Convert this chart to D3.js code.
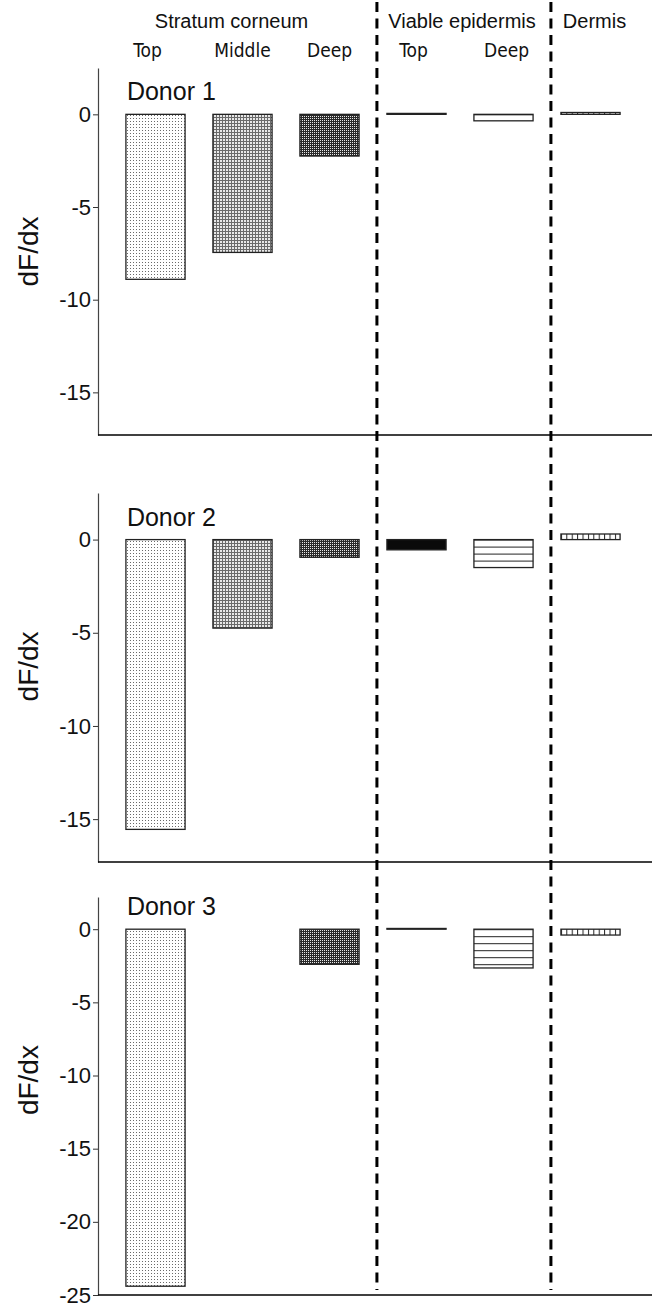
<!DOCTYPE html>
<html>
<head>
<meta charset="utf-8">
<script src="https://cdn.jsdelivr.net/npm/d3@7"></script>
<style>
  body { margin: 0; background: #fff; }
  svg { display: block; }
  text { font-family: "Liberation Sans", Arial, Helvetica, sans-serif; fill: #111; }
</style>
</head>
<body>
<svg id="chart" width="658" height="1309"></svg>
<script>
// Skin layers and the sampled depth within each layer
const layers = ["Stratum corneum", "Viable epidermis", "Dermis"];
const categories = ["SC Top", "SC Middle", "SC Deep", "VE Top", "VE Deep", "Dermis"];
const categoryLabels = ["Top", "Middle", "Deep", "Top", "Deep", ""];
const categoryLayer = [0, 0, 0, 1, 1, 2];

// Gradient dF/dx per donor (null = not measured)
const donors = ["Donor 1", "Donor 2", "Donor 3"];
const donor1 = [-8.9, -7.45, -2.25, 0.05, -0.35, 0.1];
const donor2 = [-15.55, -4.75, -0.95, -0.55, -1.5, 0.3];
const donor3 = [-24.4, null, -2.4, 0.05, -2.65, -0.4];

// Value axis per donor panel
const yDomainMin = [-17.3, -17.3, -25];
const yDomainMax = [2.5, 2.5, 2.2];
const yTicks1 = [0, -5, -10, -15];
const yTicks2 = [0, -5, -10, -15];
const yTicks3 = [0, -5, -10, -15, -20, -25];
const yAxisTitle = "dF/dx";

const series = [donor1, donor2, donor3];
const tickSets = [yTicks1, yTicks2, yTicks3];

const axisX = 98, axisRight = 652;
const panels = [
  { top: 68, bottom: 435, titleAt: 0.5 },
  { top: 493, bottom: 862, titleAt: 0.47 },
  { top: 897, bottom: 1295, titleAt: 0.46 }
];

const svg = d3.select("#chart");
const defs = svg.append("defs");

const x = d3.scaleBand()
  .domain(categories)
  .range([112, 634])
  .paddingInner(0.32)
  .paddingOuter(0.16);

// ---- fill patterns ----
function makePattern(id, w, h, px, py) {
  return defs.append("pattern")
    .attr("id", id)
    .attr("patternUnits", "userSpaceOnUse")
    .attr("x", px || 0).attr("y", py || 0)
    .attr("width", w).attr("height", h);
}
// sparse dots
{
  const p = makePattern("dots", 3, 3);
  p.append("rect").attr("width", 3).attr("height", 3).attr("fill", "#fff");
  p.append("rect").attr("x", 1).attr("y", 1).attr("width", 1).attr("height", 1).attr("fill", "#6a6a6a");
}
// fine mesh
{
  const p = makePattern("mesh", 3, 3);
  p.append("rect").attr("width", 3).attr("height", 3).attr("fill", "#e8e8e8");
  p.append("rect").attr("width", 3).attr("height", 1).attr("fill", "#6a6a6a");
  p.append("rect").attr("width", 1).attr("height", 3).attr("fill", "#6a6a6a");
}
// dark checker
{
  const p = makePattern("checker", 2, 2);
  p.append("rect").attr("width", 2).attr("height", 2).attr("fill", "#2a2a2a");
  p.append("rect").attr("width", 1).attr("height", 1).attr("fill", "#e8e8e8");
}

// ---- vertical section dividers ----
const dividerX = [x("VE Top") - 10, x("Dermis") - 10];
svg.append("g").selectAll("line")
  .data(dividerX)
  .join("line")
  .attr("x1", d => d).attr("x2", d => d)
  .attr("y1", 2).attr("y2", 1290)
  .attr("stroke", "#000")
  .attr("stroke-width", 3)
  .attr("stroke-dasharray", "10,6.5");

// ---- header ----
const header = svg.append("g");
const layerCenters = layers.map((l, i) => {
  const cs = categories.filter((c, j) => categoryLayer[j] === i);
  return d3.mean(cs, c => x(c) + x.bandwidth() / 2);
});
const layerShift = [-11, 2, 4];
header.selectAll("text.layer")
  .data(layers)
  .join("text")
  .attr("class", "layer")
  .attr("x", (d, i) => layerCenters[i] + layerShift[i])
  .attr("y", 28)
  .attr("text-anchor", "middle")
  .style("font-size", "20px")
  .text(d => d);

const depthShift = [-8, 0, 0, -3, 3, 0];
header.selectAll("text.depth")
  .data(categories)
  .join("text")
  .attr("class", "depth")
  .attr("x", (d, i) => x(d) + x.bandwidth() / 2 + depthShift[i])
  .attr("y", 57)
  .attr("text-anchor", "middle")
  .style("font-family", "'Liberation Sans Narrow', 'Arial Narrow', 'DejaVu Sans Condensed', sans-serif")
  .style("font-size", "19px")
  .text((d, i) => categoryLabels[i]);

// ---- panels ----
panels.forEach((pan, pi) => {
  const g = svg.append("g");
  const y = d3.scaleLinear()
    .domain([yDomainMin[pi], yDomainMax[pi]])
    .range([pan.bottom, pan.top]);
  const y0 = y(0);

  // per-panel hatches anchored at the bar tops
  {
    const p = makePattern("hlines" + pi, 8, 7, 0, y0);
    p.append("rect").attr("width", 8).attr("height", 7).attr("fill", "#fff");
    p.append("rect").attr("width", 8).attr("height", 1).attr("fill", "#222");
  }
  {
    const p = makePattern("vlines" + pi, 5.4, 8, x("Dermis"), 0);
    p.append("rect").attr("width", 5.4).attr("height", 8).attr("fill", "#fff");
    p.append("rect").attr("width", 1).attr("height", 8).attr("fill", "#222");
  }
  const fills = ["url(#dots)", "url(#mesh)", "url(#checker)", "#0a0a0a",
                 `url(#hlines${pi})`, `url(#vlines${pi})`];

  // y axis
  const axis = d3.axisLeft(y)
    .tickValues(tickSets[pi])
    .tickSize(5)
    .tickSizeOuter(0)
    .tickPadding(2)
    .tickFormat(d => String(d));
  const ag = g.append("g").attr("transform", `translate(${axisX},0)`).call(axis);
  ag.select(".domain").attr("stroke", "#444").attr("stroke-width", 1.2);
  ag.selectAll(".tick line").attr("stroke", "#333");
  ag.selectAll(".tick text")
    .style("font-size", "22px")
    .style("font-family", "'Liberation Sans', Arial, sans-serif")
    .attr("fill", "#111");

  // baseline along the bottom
  g.append("line")
    .attr("x1", axisX).attr("x2", axisRight)
    .attr("y1", pan.bottom).attr("y2", pan.bottom)
    .attr("stroke", "#000").attr("stroke-width", 1.6);

  // axis title
  g.append("text")
    .attr("transform", `translate(38,${pan.top + (pan.bottom - pan.top) * pan.titleAt}) rotate(-90)`)
    .attr("text-anchor", "middle")
    .style("font-size", "28px")
    .text(yAxisTitle);

  // donor label
  g.append("text")
    .attr("x", x(categories[0]) + 1)
    .attr("y", y0 - 14)
    .style("font-size", "25px")
    .text(donors[pi]);

  // bars
  const rows = categories.map((c, i) => ({ c, i, v: series[pi][i] }))
    .filter(d => d.v !== null);
  g.selectAll("rect.bar")
    .data(rows)
    .join("rect")
    .attr("class", "bar")
    .attr("x", d => x(d.c))
    .attr("width", x.bandwidth())
    .attr("y", d => y(Math.max(0, d.v)))
    .attr("height", d => Math.abs(y(d.v) - y0))
    .attr("fill", d => fills[d.i])
    .attr("stroke", "#222")
    .attr("stroke-width", 1.3);
});
</script>
</body>
</html>
